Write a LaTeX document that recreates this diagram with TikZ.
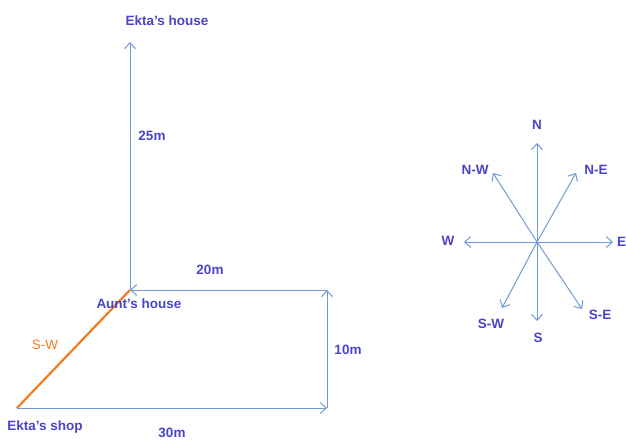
\documentclass[tikz,border=0pt]{standalone}
\usepackage{fontspec}
\setmainfont{Liberation Sans}
\usetikzlibrary{arrows.meta}
\definecolor{txtblue}{HTML}{4A44C8}
\definecolor{linblue}{HTML}{6F9BD0}
\definecolor{orng}{HTML}{F47B20}
\newcommand{\apos}{\symbol{39}}
\begin{document}
\begin{tikzpicture}[x=1pt,y=-1pt,
  lbl/.style={text=txtblue,font=\bfseries\fontsize{13.5}{15}\selectfont,inner sep=0pt},
  conn/.style={draw=linblue,line width=1pt,-{Straight Barb[length=6pt,width=11pt,line width=1pt]}},
  sw/.style={draw=orng,line width=2.2pt}]
\useasboundingbox (0,0) rectangle (626,439);
\clip (0,0) rectangle (626,439);
% path points
\coordinate (shop) at (17,408);
\coordinate (c30) at (327,408);
\coordinate (c20) at (327,290);
\coordinate (aunt) at (130,290);
\coordinate (house) at (130,42);
\draw[conn] (shop) -- (c30);
\draw[conn] (c30) -- (c20);
\draw[conn] (c20) -- (aunt);
\draw[conn] (aunt) -- (house);
\draw[sw] (shop) -- (aunt);
% labels
\node[lbl] (lhouse) at (167,21) {Ekta\apos s house};
\node[lbl] (l25) at (152,136) {25m};
\node[lbl] (l20) at (210,270) {20m};
\node[lbl] (launt) at (139,304) {Aunt\apos s house};
\node[lbl] (l10) at (348,350) {10m};
\node[lbl] (lshop) at (45,427) {Ekta\apos s shop};
\node[lbl] (l30) at (172,433) {30m};
\node[lbl,text=orng,font=\fontsize{13.5}{15}\selectfont] (lsw) at (45,345) {S-W};
% compass
\coordinate (O) at (537,242);
\coordinate (N) at (537,143);
\coordinate (S) at (537,321);
\coordinate (E) at (613,242);
\coordinate (W) at (464,242);
\coordinate (NE) at (576,173);
\coordinate (NW) at (493,173);
\coordinate (SW) at (502,308);
\coordinate (SE) at (582,309);
\foreach \p in {N,S,E,W,NE,NW,SW,SE} \draw[conn] (O) -- (\p);
\node[lbl] (tN) at (537,125) {N};
\node[lbl] (tNE) at (596,170) {N-E};
\node[lbl] (tNW) at (475,170) {N-W};
\node[lbl] (tW) at (448,241) {W};
\node[lbl,anchor=west] (tE) at (617,242) {E};
\node[lbl] (tSW) at (491,324) {S-W};
\node[lbl] (tS) at (538,338) {S};
\node[lbl] (tSE) at (600,315) {S-E};
\end{tikzpicture}
\end{document}
